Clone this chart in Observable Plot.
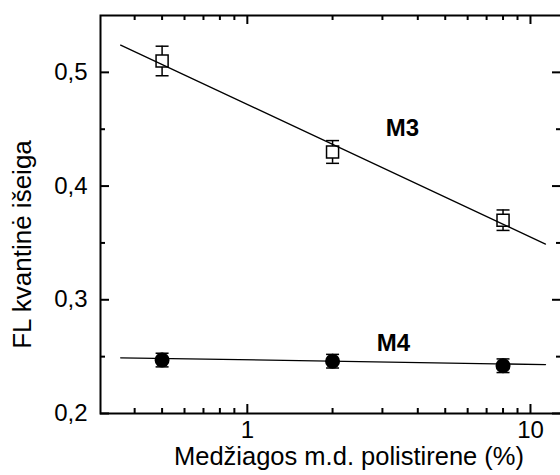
<!DOCTYPE html>
<html>
<head>
<meta charset="utf-8">
<script src="https://cdn.jsdelivr.net/npm/d3@7"></script>
<script src="https://cdn.jsdelivr.net/npm/@observablehq/plot@0.6"></script>
<style>
  html, body { margin: 0; padding: 0; background: #fff; }
</style>
</head>
<body>
<div id="chart"></div>
<script>
// ---- data ----
const concentrations = [0.5, 2, 8];          // % polystyrene
const m3Yield = [0.51, 0.43, 0.37];
const m3Err   = [0.013, 0.010, 0.009];
const m4Yield = [0.247, 0.246, 0.242];
const m4Err   = [0.006, 0.006, 0.006];

const fitX  = [0.357, 11.3];
const m3Fit = [0.524, 0.349];
const m4Fit = [0.249, 0.243];

const seriesNames = ["M3", "M4"];
const seriesLabelX = [3.53, 3.28];
const seriesLabelY = [0.451, 0.2615];

const xMajorTicks = [1, 10];
const xMinorTicks = [0.4, 0.5, 0.6, 0.7, 0.8, 0.9, 2, 3, 4, 5, 6, 7, 8, 9];
const yMajorTicks = [0.2, 0.3, 0.4, 0.5];
const yMinorTicks = [0.25, 0.35, 0.45];

const xTitle = "Medžiagos m.d. polistirene (%)";
const yTitle = "FL kvantinė išeiga";

// ---- tables built from arrays ----
const m3 = concentrations.map((c, i) => ({x: c, y: m3Yield[i], lo: m3Yield[i] - m3Err[i], hi: m3Yield[i] + m3Err[i]}));
const m4 = concentrations.map((c, i) => ({x: c, y: m4Yield[i], lo: m4Yield[i] - m4Err[i], hi: m4Yield[i] + m4Err[i]}));
const m3Line = fitX.map((x, i) => ({x, y: m3Fit[i]}));
const m4Line = fitX.map((x, i) => ({x, y: m4Fit[i]}));
const labels = seriesNames.map((n, i) => ({name: n, x: seriesLabelX[i], y: seriesLabelY[i]}));

const W = 560, H = 475;
const mL = 100, mT = 15, mB = 62, mR = -1;
const innerW = W - mL - mR, innerH = H - mT - mB;
const font = "'Liberation Sans', Arial, Helvetica, sans-serif";

const cap = {
  draw(ctx, size) {
    const r = Math.sqrt(size / Math.PI);
    ctx.moveTo(-r, 0); ctx.lineTo(r, 0);
  }
};

const fmtY = d => d.toFixed(1).replace(".", ",");

const errMarks = (data) => [
  Plot.ruleX(data, {x: "x", y1: "lo", y2: "hi", stroke: "black", strokeWidth: 1.5}),
  Plot.dot(data, {x: "x", y: "lo", symbol: cap, r: 6.5, stroke: "black", strokeWidth: 1.5}),
  Plot.dot(data, {x: "x", y: "hi", symbol: cap, r: 6.5, stroke: "black", strokeWidth: 1.5})
];

const chart = Plot.plot({
  width: W, height: H,
  marginLeft: mL, marginTop: mT, marginBottom: mB, marginRight: mR,
  style: {fontFamily: font, background: "#fff", overflow: "visible"},
  x: {type: "log", domain: [0.303, 12.87], axis: null},
  y: {domain: [0.2, 0.55], axis: null},
  marks: [
    // ticks (inward)
    Plot.tickX(xMajorTicks, {x: d => d, insetTop: innerH - 9, stroke: "black", strokeWidth: 2}),
    Plot.tickX(xMinorTicks, {x: d => d, insetTop: innerH - 5, stroke: "black", strokeWidth: 2}),
    Plot.tickX(xMajorTicks, {x: d => d, insetBottom: innerH - 9, stroke: "black", strokeWidth: 2}),
    Plot.tickX(xMinorTicks, {x: d => d, insetBottom: innerH - 5, stroke: "black", strokeWidth: 2}),
    Plot.tickY(yMajorTicks, {y: d => d, insetRight: innerW - 9, stroke: "black", strokeWidth: 2}),
    Plot.tickY(yMinorTicks, {y: d => d, insetRight: innerW - 5, stroke: "black", strokeWidth: 2}),
    Plot.tickY(yMajorTicks, {y: d => d, insetLeft: innerW - 9, stroke: "black", strokeWidth: 2}),
    Plot.tickY(yMinorTicks, {y: d => d, insetLeft: innerW - 5, stroke: "black", strokeWidth: 2}),
    // tick labels
    Plot.text(yMajorTicks, {y: d => d, text: fmtY, frameAnchor: "left", dx: -13, textAnchor: "end", fontSize: 24, fill: "black"}),
    Plot.text(xMajorTicks, {x: d => d, text: d => String(d), frameAnchor: "bottom", dy: 24, fontSize: 24, fill: "black"}),
    // axis titles
    Plot.text([xTitle], {text: d => d, frameAnchor: "bottom", dx: 18, dy: 51, fontSize: 25.5, fill: "black"}),
    Plot.text([yTitle], {text: d => d, frameAnchor: "left", dx: -78, dy: 30, rotate: -90, textAnchor: "middle", fontSize: 26, fill: "black"}),
    // M3
    ...errMarks(m3),
    Plot.dot(m3, {x: "x", y: "y", symbol: "square", r: 6.8, fill: "white", stroke: "black", strokeWidth: 1.5}),
    Plot.line(m3Line, {x: "x", y: "y", stroke: "black", strokeWidth: 1.3}),
    // M4
    Plot.line(m4Line, {x: "x", y: "y", stroke: "black", strokeWidth: 1.3}),
    ...errMarks(m4),
    Plot.dot(m4, {x: "x", y: "y", r: 7.5, fill: "black", stroke: "none"}),
    // series labels
    Plot.text(labels, {x: "x", y: "y", text: "name", fontSize: 24, fontWeight: "bold", fill: "black"}),
    // frame
    Plot.frame({stroke: "black", strokeWidth: 2})
  ]
});

document.getElementById("chart").appendChild(chart);
</script>
</body>
</html>
